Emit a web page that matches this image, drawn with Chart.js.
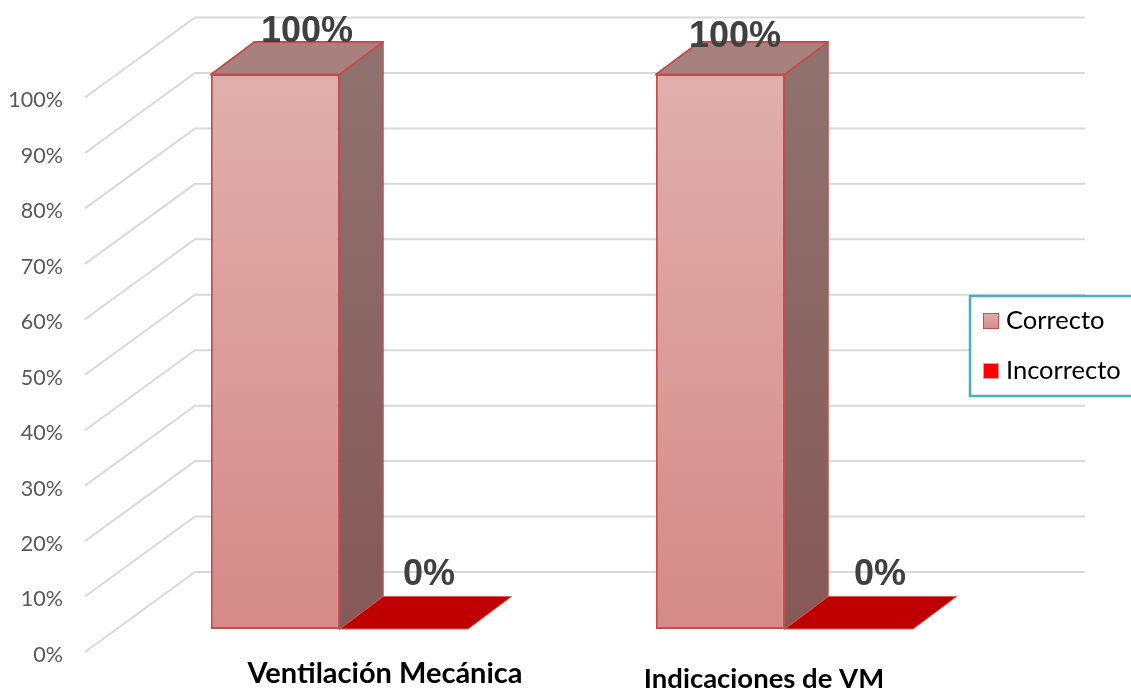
<!DOCTYPE html>
<html>
<head>
<meta charset="utf-8">
<style>html,body{margin:0;padding:0;background:#fff}canvas{display:block}</style>
<script src="https://cdn.jsdelivr.net/npm/chart.js@4"></script>
</head>
<body>
<canvas id="c" width="1131" height="689"></canvas>
<script>
const categories = ["Ventilación Mecánica", "Indicaciones de VM"];
const seriesNames = ["Correcto", "Incorrecto"];
const correcto = [100, 100];
const incorrecto = [0, 0];
const yTicks = [0, 10, 20, 30, 40, 50, 60, 70, 80, 90, 100];

const SHIFT = {x: 32, y: -23};        // bars stand part way into the floor
const DEPTH = {x: 43.5, y: -32.5};    // depth of a bar
const WALL = {x: 110, y: -80};        // depth of the floor
const WALL_RIGHT = 1085;
const BORDER = "#c0504d";
const TICK_DROP = 3;
const LABEL_OFF = [[{x: 10, y: 32}, {x: -7, y: 37}], [{x: 3.5, y: 575}, {x: 9.5, y: 575}]];
const CAT_POS = [{x: 385, y: 673.5, s: 29}, {x: 764, y: 679, s: 27.5}];

function grad(ctx, y0, y1, a, b) {
  const g = ctx.createLinearGradient(0, y0, 0, y1);
  g.addColorStop(0, a); g.addColorStop(1, b); return g;
}

const threeD = {
  id: "threeD",
  beforeDraw(chart) {
    chart.scales.y.getLabelItems().forEach(it => {
      if (!it.options.dropped) {
        it.options.translation = [it.options.translation[0], it.options.translation[1] + TICK_DROP];
        it.options.dropped = true;
      }
    });
  },
  beforeDatasetsDraw(chart) {
    const {ctx} = chart, y = chart.scales.y;
    ctx.save();
    ctx.strokeStyle = "#d9d9d9"; ctx.lineWidth = 2;
    yTicks.forEach(v => {
      const p = y.getPixelForValue(v), l = chart.chartArea.left;
      ctx.beginPath();
      ctx.moveTo(l, p);
      ctx.lineTo(l + WALL.x, p + WALL.y);
      ctx.lineTo(WALL_RIGHT, p + WALL.y);
      ctx.stroke();
    });
    ctx.restore();
  },
  beforeDatasetDraw(chart, args) {
    const {ctx} = chart;
    const meta = chart.getDatasetMeta(args.index);
    ctx.save();
    ctx.translate(SHIFT.x, SHIFT.y);
    meta.data.forEach(b => {
      const l = b.x - b.width / 2, r = b.x + b.width / 2, t = b.y, base = b.base;
      ctx.lineJoin = "round";
      if (args.index === 0) {
        ctx.beginPath();
        ctx.moveTo(r, t); ctx.lineTo(r + DEPTH.x, t + DEPTH.y);
        ctx.lineTo(r + DEPTH.x, base + DEPTH.y); ctx.lineTo(r, base); ctx.closePath();
        ctx.fillStyle = grad(ctx, t, base, "#8f716e", "#855957");
        ctx.fill();
        ctx.strokeStyle = BORDER; ctx.lineWidth = 1.5; ctx.stroke();
      }
      ctx.beginPath();
      ctx.moveTo(l, t); ctx.lineTo(l + DEPTH.x, t + DEPTH.y);
      ctx.lineTo(r + DEPTH.x, t + DEPTH.y); ctx.lineTo(r, t); ctx.closePath();
      ctx.fillStyle = args.index === 0 ? "#a8807e" : "#c00000";
      ctx.fill();
      ctx.strokeStyle = args.index === 0 ? BORDER : "#d9605c";
      ctx.lineWidth = args.index === 0 ? 2 : 1;
      ctx.stroke();
    });
  },
  afterDatasetDraw(chart) { chart.ctx.restore(); },
  afterDraw(chart) {
    const {ctx} = chart;
    ctx.save();
    ctx.textAlign = "center"; ctx.textBaseline = "middle";
    // value labels
    chart.data.datasets.forEach((ds, i) => {
      chart.getDatasetMeta(i).data.forEach((b, j) => {
        const off = LABEL_OFF[i][j];
        const px = b.x + SHIFT.x + DEPTH.x / 2 + off.x;
        ctx.font = "bold 36px 'Liberation Sans'";
        ctx.fillStyle = "#404040";
        ctx.fillText(ds.data[j] + "%", px, off.y);
      });
    });
    // category labels
    ctx.fillStyle = "#000";
    chart.data.labels.forEach((t, i) => {
      ctx.font = "bold " + CAT_POS[i].s + "px Lato";
      ctx.fillText(t, CAT_POS[i].x, CAT_POS[i].y);
    });
    // legend
    ctx.fillStyle = "#fff"; ctx.fillRect(970, 296, 170, 100);
    ctx.strokeStyle = "#4bacc6"; ctx.lineWidth = 2.5; ctx.strokeRect(970, 296, 170, 100);
    ctx.textAlign = "left";
    ctx.font = "25.5px Lato";
    const sw = [["#e0afad", "#d48a88", BORDER], ["#ff0000", "#ff0000", "#ee9a98"]];
    chart.data.datasets.forEach((ds, i) => {
      const y = 313 + i * 50;
      ctx.fillStyle = grad(ctx, y, y + 16, sw[i][0], sw[i][1]);
      ctx.fillRect(983, y, 16, 16);
      ctx.strokeStyle = sw[i][2]; ctx.lineWidth = 1;
      ctx.strokeRect(983.5, y + 0.5, 15, 15);
      ctx.fillStyle = "#000";
      ctx.fillText(ds.label, 1006, y + 8);
    });
    ctx.restore();
  }
};

new Chart(document.getElementById("c"), {
  type: "bar",
  data: {
    labels: categories,
    datasets: [
      {
        label: seriesNames[0], data: correcto,
        backgroundColor: c => grad(c.chart.ctx, 97, 652, "#e0afad", "#d48a88"),
        borderColor: BORDER, borderWidth: 2, borderSkipped: false
      },
      {
        label: seriesNames[1], data: incorrecto,
        backgroundColor: "#c00000", borderColor: "#d9605c", borderWidth: 0, borderSkipped: false
      }
    ]
  },
  options: {
    responsive: false,
    animation: false,
    events: [],
    layout: {padding: {left: 0, top: 97.5, right: 156, bottom: 37}},
    datasets: {bar: {categoryPercentage: 0.578, barPercentage: 1}},
    plugins: {legend: {display: false}, tooltip: {enabled: false}, title: {display: false}},
    scales: {
      x: {
        afterFit(s) { s.height = 0; },
        grid: {display: false}, border: {display: false},
        ticks: {display: false}
      },
      y: {
        min: 0, max: 100,
        afterFit(s) { s.width = 85; },
        grid: {display: false}, border: {display: false},
        afterBuildTicks(s) { s.ticks = yTicks.map(v => ({value: v})); },
        ticks: {
          padding: 14, color: "#595959", autoSkip: false,
          font: {family: "Lato", size: 21.5},
          callback: v => v + "%"
        }
      }
    }
  },
  plugins: [threeD]
});
</script>
</body>
</html>
